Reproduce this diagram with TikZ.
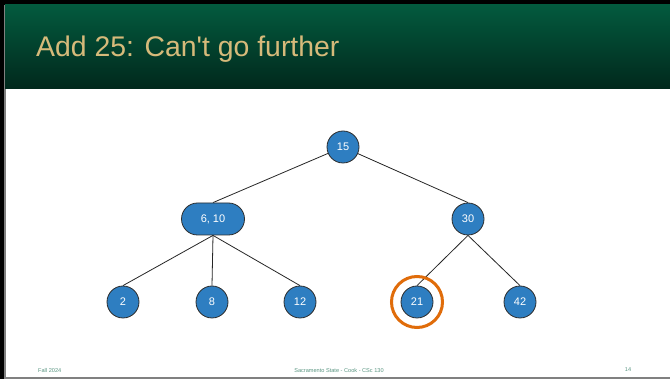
\documentclass[tikz,border=0pt]{standalone}
\usepackage{fontspec}
\setmainfont{Liberation Sans}
\usetikzlibrary{shapes.misc}
\pgfdeclarelayer{frame}
\pgfdeclarelayer{links}
\pgfsetlayers{frame,links,main}
\definecolor{hdtop}{RGB}{3,90,62}
\definecolor{hdbot}{RGB}{1,40,28}
\definecolor{titlecol}{RGB}{214,186,122}
\definecolor{nodeblue}{RGB}{46,126,193}
\definecolor{nodeedge}{RGB}{45,45,45}
\definecolor{ringorange}{RGB}{224,108,10}
\definecolor{footcol}{RGB}{90,150,130}
\tikzset{
  treenode/.style={circle, fill=nodeblue, draw=nodeedge, line width=0.8pt,
    minimum size=32pt, inner sep=0pt, text=white, font=\fontsize{11}{12}\selectfont},
  pairnode/.style={rounded rectangle, fill=nodeblue, draw=nodeedge, line width=0.8pt,
    minimum width=63pt, minimum height=32pt, inner sep=0pt, text=white,
    font=\fontsize{11}{12}\selectfont},
  edge/.style={draw=black!85, line width=0.8pt},
  ring/.style={circle, draw=ringorange, line width=3pt, minimum size=51pt, inner sep=0pt},
  foot/.style={text=footcol, font=\fontsize{5.6}{6}\selectfont, inner sep=0pt}
}
\begin{document}
\begin{tikzpicture}[x=1pt, y=-1pt]
  \useasboundingbox (0,0) rectangle (670,379);
  % slide frame and header bar
  \begin{pgfonlayer}{frame}
    \fill[black] (0,0) rectangle (670,379);
    \fill[black!50] (4,5) rectangle (670,379);
    \fill[white] (6,5) rectangle (670,377);
    \shade[top color=hdtop, bottom color=hdbot] (5,5) rectangle (670,89);
  \end{pgfonlayer}
  \node[anchor=base west, text=titlecol, font=\fontsize{28.4}{32}\selectfont, inner sep=0pt]
    (title) at (36,57) {Add 25: Can\textquotesingle t go further};

  % tree nodes
  \node[treenode] (n15) at (343,147) {15};
  \node[pairnode] (n610) at (213,219) {6, 10};
  \node[treenode] (n30) at (468,219) {30};
  \node[treenode] (n2) at (123,302) {2};
  \node[treenode] (n8) at (212,302) {8};
  \node[treenode] (n12) at (300,302) {12};
  \node[treenode] (n21) at (417,302) {21};
  \node[treenode] (n42) at (520,302) {42};

  % connectors, kept beneath the nodes
  \begin{pgfonlayer}{links}
    \draw[edge] (n15.center) -- (n610.north);
    \draw[edge] (n15.center) -- (n30.north);
    \draw[edge] (n610.south) -- (n2.north);
    \draw[edge] (n610.south) -- (n8.north);
    \draw[edge] (n610.south) -- (n12.north);
    \draw[edge] (n30.south) -- (n21.north);
    \draw[edge] (n30.south) -- (n42.north);
  \end{pgfonlayer}

  % highlight ring
  \node[ring] (hl) at (n21) {};

  % footer
  \node[foot, anchor=west] (fl) at (38,370) {Fall 2024};
  \node[foot] (fc) at (339,370) {Sacramento State - Cook - CSc 130};
  \node[foot] (fr) at (628,370) {14};
\end{tikzpicture}
\end{document}
